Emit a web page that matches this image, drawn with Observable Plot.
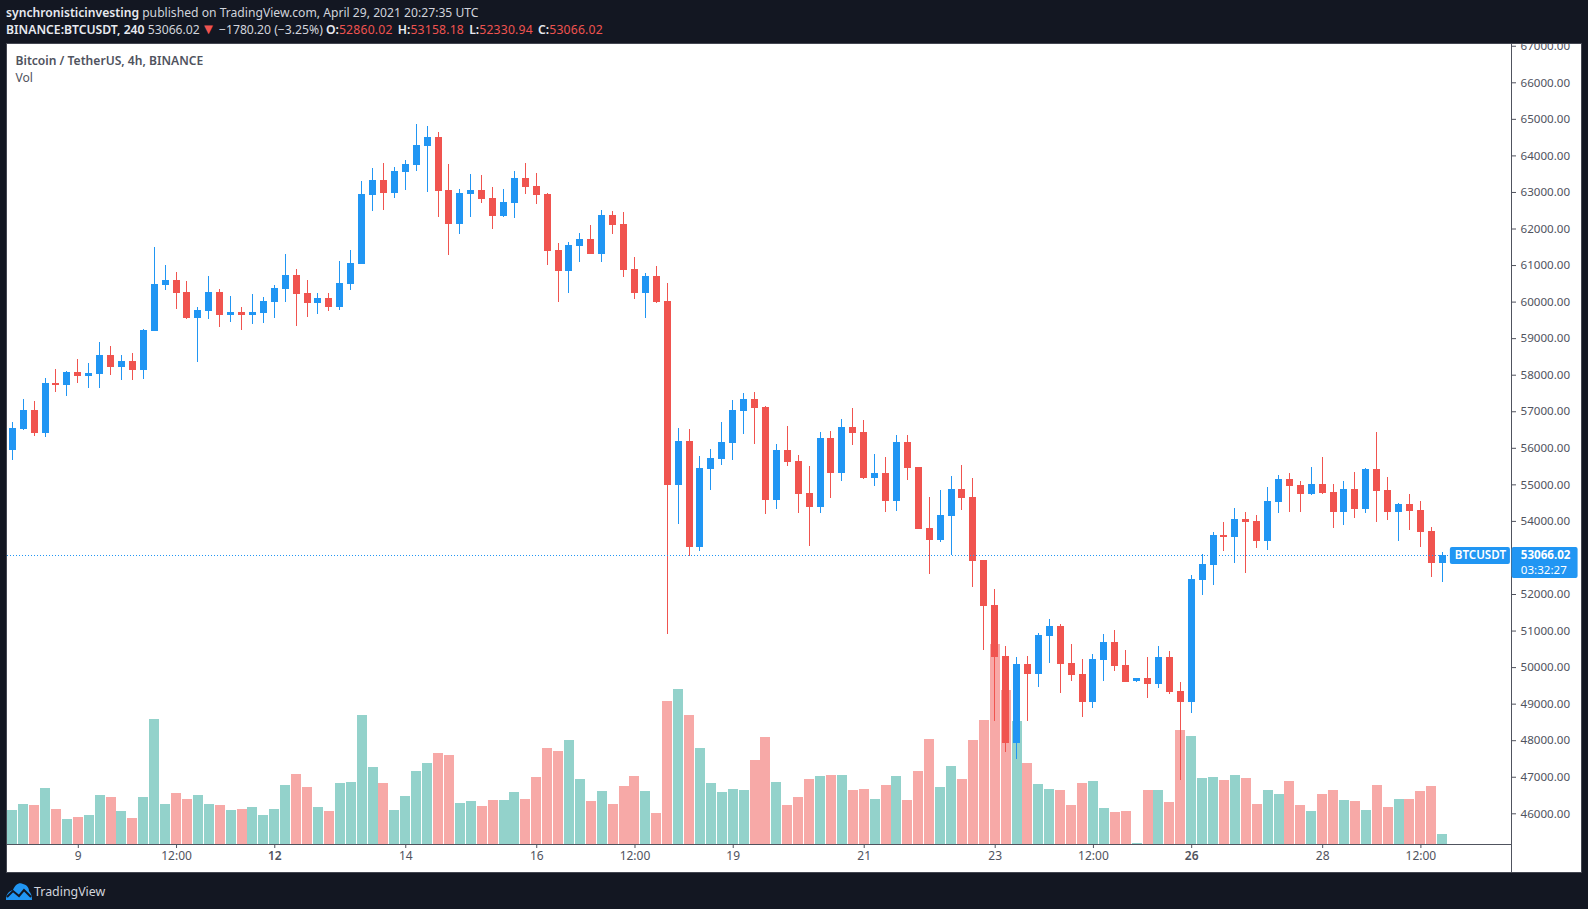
<!DOCTYPE html>
<html>
<head>
<meta charset="utf-8">
<script src="https://cdn.jsdelivr.net/npm/d3@7"></script>
<script src="https://cdn.jsdelivr.net/npm/@observablehq/plot@0.6"></script>
<style>
html,body{margin:0;padding:0;background:#131722;width:1588px;height:909px;overflow:hidden;font-family:"Noto Sans",sans-serif;}
#hdr{position:absolute;left:6px;top:0;height:43px;color:#d1d4dc;white-space:nowrap;}
#hdr div{position:absolute;left:0;line-height:17px;}
#l1{top:4px;font-size:12.15px}#l2{top:21px;font-size:12.2px}
#hdr b{font-weight:600;color:#e8eaf0}
#hdr .r{color:#ef5350}
#hdr .v{letter-spacing:0.2px}
#hdr .g{margin-left:2px}
#hdr .t{font-size:15px;line-height:12px;margin-left:-2px}
#chart{position:absolute;left:7px;top:44px;outline:1px solid #434651;}
#chart svg{display:block}
#foot{position:absolute;left:6px;top:881px;display:flex;align-items:center;color:#d1d4dc;font-size:12.4px;height:20px;}
#foot svg{margin-right:2px}
</style>
</head>
<body>
<div id="hdr">
<div id="l1"><b>synchronisticinvesting</b> published on TradingView.com, April 29, 2021 20:27:35 UTC</div>
<div id="l2"><b>BINANCE:BTCUSDT, 240</b> 53066.02 <span class="r t">▼</span> −1780.20 (−3.25%) <b>O:</b><span class="r v">52860.02</span> <b class="g">H:</b><span class="r v">53158.18</span> <b class="g">L:</b><span class="r v">52330.94</span> <b class="g">C:</b><span class="r v">53066.02</span></div>
</div>
<div id="chart"></div>
<div id="foot"><svg width="26" height="18" viewBox="0 0 26 18"><path d="M0 18 C0 12 3 9 7 8 C9 3 13 0 17 2 C21 3 23 6 23 9 C25 11 26 14 26 18 Z" fill="#2196f3"/><path d="M1 15 L7 9 L13 14 L18 8 L25 15" fill="none" stroke="#131722" stroke-width="2"/></svg><span>TradingView</span></div>
<script>
const opens=[55940,56514,57034,56405,57773,57718,58074,57965,58019,58539,58211,58375,58129,59196,60454,60591,60263,59552,59743,60263,59634,59716,59634,59688,59989,60345,60728,60236,59962,60099,59852,60482,61029,62917,63327,62972,63546,63737,64257,64503,63053,62123,62944,63053,62834,62342,62698,63381,63163,62944,61412,60837,61521,61713,61302,62369,62123,60892,60235,60700,60016,54982,56186,53286,55420,55694,56131,57007,57335,57116,54572,55940,55639,54763,54380,56268,55311,56569,56432,55174,55311,54544,56159,55475,53806,53477,54134,54873,54654,52930,51699,50303,47923,50084,49811,50850,51124,50112,49811,49045,50194,50686,50057,49619,49701,49537,50276,49346,49045,52382,52793,53614,53559,54051,53997,53449,54516,55146,54982,54735,55009,54790,54243,54872,54325,55419,54845,54243,54462,54298,53723,52860];
const highs=[56706,57335,57280,57910,58156,58101,58430,58320,58895,58785,58539,58594,59250,61494,61002,60810,60564,59852,60701,60345,60153,59852,60208,60126,60454,61302,60892,60591,60236,60236,61111,61412,63300,63655,63792,63683,63874,64859,64804,64640,63765,63080,63491,63464,63135,63080,63573,63792,63518,62971,61603,61630,61877,62096,62506,62479,62451,61220,60782,60974,60509,56542,56514,55776,55967,56706,57308,57499,57527,57144,56104,56596,55803,55502,56432,56460,56788,57089,56761,55830,55748,56350,56350,55475,54654,54845,55228,55529,55174,52930,52136,50577,50276,50303,50933,51316,51179,50632,50221,50358,50905,51015,50467,49702,50276,50577,50440,49592,52519,53094,53696,53969,54352,54243,54161,54927,55255,55310,55091,55474,55748,55009,55091,55337,55447,56432,55200,54489,54735,54544,53832,53158];
const lows=[55666,56500,56323,56295,57527,57417,57773,57636,57636,57992,57855,57855,57882,59196,60318,59798,59524,58348,59524,59305,59442,59223,59387,59415,59552,59989,59333,59579,59661,59743,59771,60318,61029,62479,62506,62835,63053,63573,62998,62314,61275,61849,62314,62698,61986,62314,62287,62944,62670,61001,59989,60235,61083,61302,61083,61849,60673,60071,59551,59962,50906,53915,53040,53176,54845,55529,55666,56378,56104,54189,54326,55502,54216,53313,54216,54626,55092,56077,55146,54955,54243,54271,55119,53778,52547,53423,53067,54298,52191,50467,48525,47677,47485,48525,49455,50112,49291,49619,48634,48880,49619,49893,49592,49592,49154,49428,49264,46911,48744,51972,52246,53176,52848,52574,53258,53203,54216,54243,54243,54708,54735,53805,53887,54079,54216,53969,54024,53449,53750,53285,52464,52330];
const closes=[56542,57034,56405,57773,57718,58074,57965,58047,58539,58211,58375,58129,59223,60482,60591,60236,59552,59770,60263,59634,59716,59634,59716,60017,60372,60728,60208,59962,60099,59852,60509,61056,62944,63327,62972,63573,63765,64284,64503,63026,62123,62971,63053,62807,62342,62725,63381,63135,62916,61384,60837,61548,61713,61302,62369,62096,60864,60235,60700,59989,54982,56186,53286,55447,55721,56159,57034,57335,57089,54572,55940,55612,54736,54380,56268,55311,56569,56405,55174,55311,54544,56159,55447,53778,53477,54161,54873,54627,52903,51671,50276,47923,50084,49811,50878,51124,50084,49783,49045,50221,50686,50030,49592,49701,49537,50276,49318,49045,52410,52820,53614,53559,54051,53969,53449,54544,55146,54954,54735,55009,54763,54243,54872,54325,55419,54817,54243,54462,54270,53696,52848,53066];
const volumes=[103,121,118,169,106,76,82,88,148,142,100,79,142,376,121,154,136,148,121,118,103,106,112,88,106,178,211,172,112,100,184,187,388,232,184,103,145,220,244,274,268,124,130,115,133,133,157,136,202,289,280,313,196,130,160,121,175,205,160,94,430,466,388,289,184,157,166,163,253,322,187,118,142,196,205,208,208,163,166,136,178,205,133,220,316,172,235,196,313,373,601,463,370,244,181,166,163,118,184,190,109,97,100,4,163,163,127,343,325,199,202,193,208,199,121,163,151,190,118,100,151,163,133,130,103,178,112,136,136,160,175,31];
const dayTicks=[6,36,48,66,78,90,120];
const dayLabels=["9","14","16","19","21","23","28"];
const boldTicks=[24,108];
const boldLabels=["12","26"];
const noonTicks=[15,57,99,129];
const noonLabels=["12:00","12:00","12:00","12:00"];
const priceTicks=d3.range(46000,67001,1000);
const lastPrice=53066.02;

const UP="#2196f3",DOWN="#f0544f",VUP="#93d2cb",VDOWN="#f7a9a7",GREY="#50535e";
const FONT='"Noto Sans",sans-serif';
const rows=opens.map((o,i)=>({i,o,h:highs[i],l:lows[i],c:closes[i],v:volumes[i],up:closes[i]>=o}));

const W=1574,H=828,ML=0,MR=70,MT=0,MB=28;
const xMin=-0.486,xMax=137.3,yMin=45160,yMax=67048;
const pitch=(W-ML-MR)/(xMax-xMin);
const perPx=(yMax-yMin)/(H-MT-MB);
const volUnit=perPx/3;
const px=n=>n/pitch;

const chart=Plot.plot({
  width:W,height:H,marginLeft:ML,marginRight:MR,marginTop:MT,marginBottom:MB,
  style:{fontFamily:FONT,fontSize:"12px",background:"#fff",color:GREY,overflow:"hidden"},
  x:{domain:[xMin,xMax]},
  y:{domain:[yMin,yMax]},
  color:{type:"identity"},
  marks:[
    Plot.rect(rows,{x1:d=>d.i-px(5),x2:d=>d.i+px(5),y1:yMin,y2:d=>yMin+d.v*volUnit,fill:d=>d.up?VUP:VDOWN,shapeRendering:"crispEdges"}),
    Plot.ruleX(rows,{x:"i",y1:"l",y2:"h",stroke:d=>d.up?UP:DOWN,strokeWidth:1,dx:-0.5,shapeRendering:"crispEdges"}),
    Plot.rect(rows,{x1:d=>d.i-px(3.5),x2:d=>d.i+px(3.5),y1:"o",y2:"c",fill:d=>d.up?UP:DOWN,shapeRendering:"crispEdges"}),
    Plot.ruleY([lastPrice],{x1:xMin,x2:131.7,stroke:UP,strokeWidth:1,strokeDasharray:"1,2",shapeRendering:"crispEdges"}),
    Plot.ruleY([yMin],{x1:xMin,x2:xMax,stroke:GREY,strokeWidth:1}),
    Plot.ruleX([xMax],{y1:yMin-30*perPx,y2:yMax,stroke:GREY,strokeWidth:1}),
    Plot.axisY({anchor:"right",ticks:priceTicks,tickFormat:d=>d.toFixed(2),tickSize:4,tickPadding:5,label:null,fontSize:11.6,stroke:GREY,fill:GREY}),
    Plot.axisX({ticks:dayTicks,tickFormat:d=>dayLabels[dayTicks.indexOf(d)],tickSize:4,tickPadding:3,label:null,fontSize:12,fill:GREY,stroke:GREY}),
    Plot.axisX({ticks:noonTicks,tickFormat:d=>noonLabels[noonTicks.indexOf(d)],tickSize:4,tickPadding:3,label:null,fontSize:12,fill:GREY,stroke:GREY}),
    Plot.axisX({ticks:boldTicks,tickFormat:d=>boldLabels[boldTicks.indexOf(d)],tickSize:4,tickPadding:3,label:null,fontSize:12,fontWeight:"600",fill:GREY,stroke:GREY}),
    Plot.rect([0],{x1:131.7,x2:137.2,y1:52821,y2:53286,fill:UP,rx:2}),
    Plot.rect([0],{x1:137.35,x2:143.4,y1:52437,y2:53286,fill:UP,rx:2}),
    Plot.text(["BTCUSDT"],{x:134.45,y:lastPrice,text:d=>d,fill:"#fff",fontSize:11.6,fontWeight:600,textAnchor:"middle"}),
    Plot.text([lastPrice.toFixed(2)],{x:138.15,y:lastPrice,text:d=>d,fill:"#fff",fontSize:11.6,fontWeight:700,textAnchor:"start"}),
    Plot.text(["03:32:27"],{x:138.15,y:52660,text:d=>d,fill:"#fff",fontSize:11.6,textAnchor:"start"}),
    Plot.text(["Bitcoin / TetherUS, 4h, BINANCE"],{frameAnchor:"top-left",dx:8,dy:12,text:d=>d,fill:GREY,fontSize:12.1,fontWeight:600,textAnchor:"start"}),
    Plot.text(["Vol"],{frameAnchor:"top-left",dx:8,dy:29,text:d=>d,fill:GREY,fontSize:12.1,textAnchor:"start"})
  ]
});
document.getElementById("chart").appendChild(chart);
</script>
</body>
</html>
